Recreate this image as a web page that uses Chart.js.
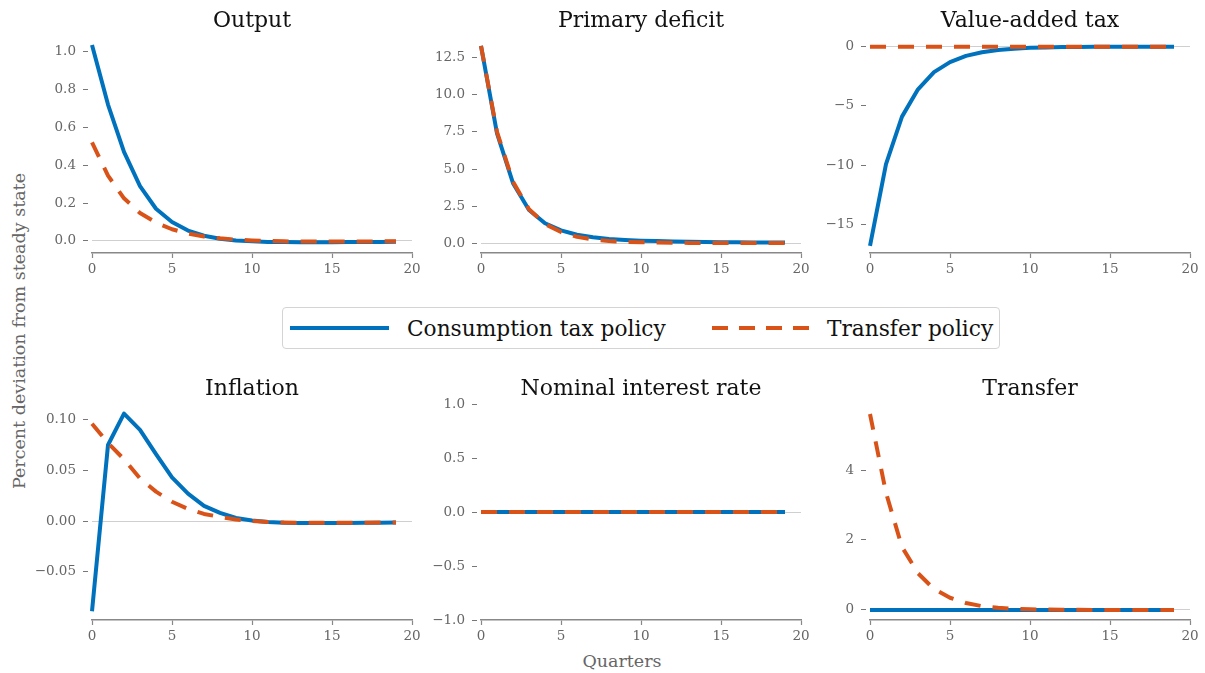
<!DOCTYPE html>
<html>
<head>
<meta charset="utf-8">
<script src="https://cdn.jsdelivr.net/npm/chart.js@4.4.1/dist/chart.umd.min.js"></script>
<style>
  body { margin: 0; background: #fff; width: 1205px; height: 673px; position: relative; overflow: hidden;
         font-family: 'DejaVu Serif', serif; }
  canvas { position: absolute; }
  #ylabel { position: absolute; left: 19px; top: 331px; transform: translate(-50%, -50%) rotate(-90deg);
            white-space: nowrap; font-size: 17.5px; color: #666; }
  #xlabel { position: absolute; left: 622px; top: 661px; transform: translate(-50%, -50%);
            white-space: nowrap; font-size: 17.5px; color: #666; }
  #legend { position: absolute; left: 282px; top: 307px; width: 716px; height: 40px;
            border: 1px solid #d4d4d4; border-radius: 4px; }
  #legend svg { position: absolute; left: 0; top: 0; }
  #legend span { position: absolute; top: 20px; transform: translateY(-50%); font-size: 21.7px; color: #111; white-space: nowrap; }
</style>
</head>
<body>
<div id="ylabel">Percent deviation from steady state</div>
<div id="xlabel">Quarters</div>
<div id="legend">
  <svg width="716" height="40">
    <line x1="7" y1="20" x2="106" y2="20" stroke="#0072BD" stroke-width="4"/>
    <line x1="429" y1="20" x2="526" y2="20" stroke="#D95319" stroke-width="4" stroke-dasharray="16 11"/>
  </svg>
  <span style="left:124px">Consumption tax policy</span>
  <span style="left:544px">Transfer policy</span>
</div>

<canvas id="c-output"></canvas>
<canvas id="c-deficit"></canvas>
<canvas id="c-vat"></canvas>
<canvas id="c-inflation"></canvas>
<canvas id="c-rate"></canvas>
<canvas id="c-transfer"></canvas>

<script>
// ------------------------------------------------------------
// data (quarters 0..19)
// ------------------------------------------------------------
const quarters = [0, 1, 2, 3, 4, 5, 6, 7, 8, 9, 10, 11, 12, 13, 14, 15, 16, 17, 18, 19];

const outputTax      = [1.035, 0.72, 0.47, 0.29, 0.17, 0.10, 0.055, 0.028, 0.012, 0.003, -0.002, -0.005, -0.006, -0.007, -0.007, -0.007, -0.006, -0.005, -0.005, -0.004];
const outputTransfer = [0.52, 0.345, 0.225, 0.148, 0.097, 0.062, 0.039, 0.024, 0.014, 0.007, 0.003, 0.0, -0.002, -0.003, -0.003, -0.003, -0.003, -0.003, -0.002, -0.002];

const deficitTax      = [13.3, 7.4, 4.05, 2.25, 1.35, 0.87, 0.58, 0.41, 0.30, 0.23, 0.18, 0.15, 0.12, 0.10, 0.09, 0.08, 0.07, 0.06, 0.055, 0.05];
const deficitTransfer = [13.3, 7.5, 4.15, 2.3, 1.3, 0.76, 0.44, 0.26, 0.16, 0.10, 0.07, 0.05, 0.04, 0.03, 0.03, 0.02, 0.02, 0.02, 0.02, 0.02];

const vatTax      = [-16.8, -9.9, -5.9, -3.6, -2.15, -1.3, -0.78, -0.47, -0.28, -0.17, -0.10, -0.06, -0.036, -0.022, -0.013, -0.008, -0.005, -0.003, -0.002, -0.001];
const vatTransfer = [0, 0, 0, 0, 0, 0, 0, 0, 0, 0, 0, 0, 0, 0, 0, 0, 0, 0, 0, 0];

const inflationTax      = [-0.089, 0.075, 0.106, 0.090, 0.066, 0.043, 0.027, 0.015, 0.008, 0.003, 0.0005, -0.001, -0.0018, -0.002, -0.002, -0.002, -0.002, -0.0018, -0.0016, -0.0014];
const inflationTransfer = [0.096, 0.077, 0.061, 0.042, 0.029, 0.019, 0.012, 0.007, 0.004, 0.0015, 0.0, -0.001, -0.0015, -0.0018, -0.0018, -0.0018, -0.0017, -0.0016, -0.0015, -0.0014];

const rateTax      = [0, 0, 0, 0, 0, 0, 0, 0, 0, 0, 0, 0, 0, 0, 0, 0, 0, 0, 0, 0];
const rateTransfer = [0, 0, 0, 0, 0, 0, 0, 0, 0, 0, 0, 0, 0, 0, 0, 0, 0, 0, 0, 0];

const transferTax      = [0, 0, 0, 0, 0, 0, 0, 0, 0, 0, 0, 0, 0, 0, 0, 0, 0, 0, 0, 0];
const transferTransfer = [5.6, 3.35, 1.8, 1.05, 0.6, 0.35, 0.2, 0.11, 0.065, 0.035, 0.02, 0.012, 0.007, 0.004, 0.002, 0.001, 0.001, 0, 0, 0];

// tick labels
const xTicks         = [0, 5, 10, 15, 20];
const outputTicks    = [0, 0.2, 0.4, 0.6, 0.8, 1.0];
const deficitTicks   = [0, 2.5, 5, 7.5, 10, 12.5];
const vatTicks       = [-15, -10, -5, 0];
const inflationTicks = [-0.05, 0, 0.05, 0.10];
const rateTicks      = [-1, -0.5, 0, 0.5, 1];
const transferTicks  = [0, 2, 4];

const BLUE = '#0072BD';
const ORANGE = '#D95319';
const FONT = "'DejaVu Serif', serif";
const TICK_COLOR = '#666';

// ------------------------------------------------------------
// panel layout: chart area left edge / row per panel
// ------------------------------------------------------------
const PANELS = [
  { id: 'c-output',    title: 'Output',                tax: outputTax,    tr: outputTransfer,    ticks: outputTicks,    dec: 1, min: -0.0635, max: 1.082, left: 92,  row: 0 },
  { id: 'c-deficit',   title: 'Primary deficit',       tax: deficitTax,   tr: deficitTransfer,   ticks: deficitTicks,   dec: 1, min: -0.65,   max: 13.96, left: 481, row: 0 },
  { id: 'c-vat',       title: 'Value-added tax',       tax: vatTax,       tr: vatTransfer,       ticks: vatTicks,       dec: 0, min: -17.4,   max: 0.9,   left: 870, row: 0 },
  { id: 'c-inflation', title: 'Inflation',             tax: inflationTax, tr: inflationTransfer, ticks: inflationTicks, dec: 2, min: -0.0977, max: 0.1155, left: 92, row: 1 },
  { id: 'c-rate',      title: 'Nominal interest rate', tax: rateTax,      tr: rateTransfer,      ticks: rateTicks,      dec: 1, min: -1,      max: 1,     left: 481, row: 1 },
  { id: 'c-transfer',  title: 'Transfer',              tax: transferTax,  tr: transferTransfer,  ticks: transferTicks,  dec: 0, min: -0.286,  max: 5.886, left: 870, row: 1 },
];

const ROWS = [ { areaTop: 36, areaBottom: 253 }, { areaTop: 404, areaBottom: 620 } ];
const AXIS_W = 80, AREA_W = 320, RIGHT_PAD = 14, TITLE_H = 36, XAXIS_H = 30;

function fmt(v, dec) {
  const s = Math.abs(v).toFixed(dec);
  return (v < 0 ? '\u2212' : '') + s;
}

function points(ys) {
  return quarters.map((q, i) => ({ x: q, y: ys[i] }));
}

PANELS.forEach(p => {
  const row = ROWS[p.row];
  const canvas = document.getElementById(p.id);
  const top = row.areaTop - TITLE_H;
  canvas.width = AXIS_W + AREA_W + RIGHT_PAD;
  canvas.height = row.areaBottom - top + XAXIS_H;
  canvas.style.left = (p.left - AXIS_W) + 'px';
  canvas.style.top = top + 'px';

  new Chart(canvas, {
    type: 'line',
    data: {
      datasets: [
        { label: 'Consumption tax policy', data: points(p.tax), borderColor: BLUE, borderWidth: 4,
          order: 1, borderCapStyle: 'butt', borderJoinStyle: 'round' },
        { label: 'Transfer policy', data: points(p.tr), borderColor: ORANGE, borderWidth: 4,
          borderDash: [16, 12], order: 0, borderCapStyle: 'butt', borderJoinStyle: 'round' },
      ],
    },
    options: {
      responsive: false,
      animation: false,
      devicePixelRatio: 1,
      layout: { padding: { left: 0, right: RIGHT_PAD, top: 0, bottom: 0 } },
      elements: { point: { radius: 0 }, line: { tension: 0 } },
      clip: false,
      plugins: {
        legend: { display: false },
        tooltip: { enabled: false },
        title: {
          display: true, text: p.title, color: '#111', fullSize: false,
          font: { family: FONT, size: 22, weight: 'normal', lineHeight: 1.2 },
          padding: { top: 8.5, bottom: TITLE_H - 8.5 - 26.4 },
        },
      },
      scales: {
        x: {
          type: 'linear', min: 0, max: 20,
          afterBuildTicks: axis => { axis.ticks = xTicks.map(v => ({ value: v })); },
          afterFit: axis => { axis.height = XAXIS_H; },
          border: { display: true, color: '#888', width: 1.5 },
          grid: { drawOnChartArea: false, tickLength: 5, tickColor: '#888', tickWidth: 1.2 },
          ticks: { padding: 3, color: TICK_COLOR, font: { family: FONT, size: 13.5 }, maxRotation: 0 },
        },
        y: {
          min: p.min, max: p.max,
          afterBuildTicks: axis => { axis.ticks = p.ticks.map(v => ({ value: v })); },
          afterFit: axis => { axis.width = AXIS_W; },
          border: { display: false },
          grid: {
            color: ctx => (ctx.tick && ctx.tick.value === 0) ? '#cfcfcf' : 'rgba(0,0,0,0)',
            lineWidth: 1,
            tickLength: 16,
            tickColor: '#777',
            tickWidth: 1,
            tickBorderDash: [5, 11],
            tickBorderDashOffset: 9,
          },
          ticks: { padding: 0, color: TICK_COLOR, font: { family: FONT, size: 13.5 },
                   callback: v => fmt(v, p.dec) },
        },
      },
    },
  });
});
</script>
</body>
</html>
